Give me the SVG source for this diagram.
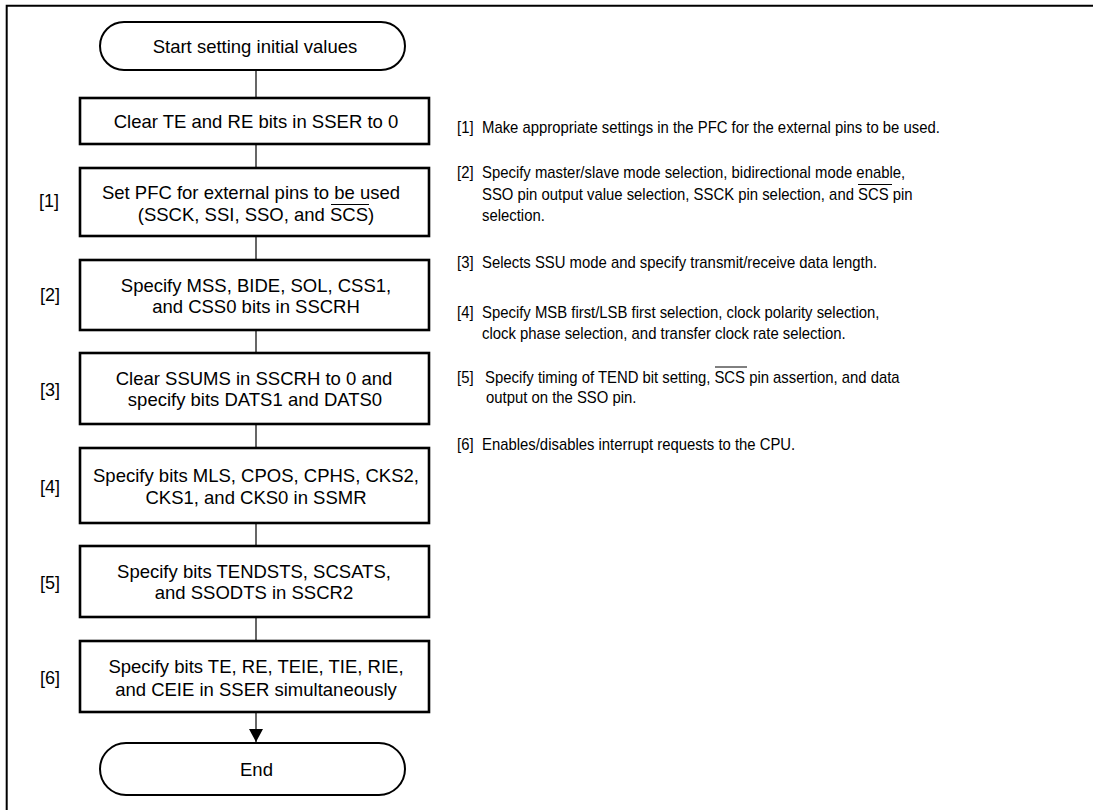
<svg xmlns="http://www.w3.org/2000/svg" width="1093" height="810" viewBox="0 0 1093 810">
<style>
text{font-family:"Liberation Sans",Arial,sans-serif;fill:#000}
.bt{font-size:18.5px;text-anchor:middle}
.lb{font-size:18px}
.rt{font-size:16px}
.box{fill:#fff;stroke:#000;stroke-width:2.6}
.term{fill:#fff;stroke:#000;stroke-width:2}
.con{stroke:#000;stroke-width:1.2;fill:none}
.ov{stroke:#000;stroke-width:1}
</style>
<defs>
<marker id="arr" markerWidth="14" markerHeight="18" refX="13" refY="7" orient="auto" markerUnits="userSpaceOnUse" viewBox="0 0 14 14">
<path d="M0,0 L13,7 L0,14 Z" fill="#000"/>
</marker>
</defs>
<rect width="1093" height="810" fill="#fff"/>
<path d="M6.7,810 V5.7 H1093" fill="none" stroke="#000" stroke-width="2"/>
<g id="connectors">
<line class="con" x1="256" y1="70" x2="256" y2="98"/>
<line class="con" x1="256" y1="144" x2="256" y2="168"/>
<line class="con" x1="256" y1="236" x2="256" y2="260"/>
<line class="con" x1="256" y1="330" x2="256" y2="353"/>
<line class="con" x1="256" y1="424" x2="256" y2="448"/>
<line class="con" x1="256" y1="523" x2="256" y2="546"/>
<line class="con" x1="256" y1="617" x2="256" y2="641"/>
<line class="con" x1="256" y1="712" x2="256" y2="742" marker-end="url(#arr)"/>
</g>
<g id="start">
<rect class="term" x="100" y="22" width="305" height="48" rx="24" ry="24"/>
<text class="bt" x="255" y="52.5">Start setting initial values</text>
</g>
<g id="step0">
<rect class="box" x="80" y="98" width="349" height="46"/>
<text class="bt" x="256" y="127.5">Clear TE and RE bits in SSER to 0</text>
</g>
<g id="step1">
<rect class="box" x="80" y="168" width="349" height="68"/>
<text class="lb" x="39" y="207">[1]</text>
<text class="bt" x="251" y="199">Set PFC for external pins to be used</text>
<text class="bt" x="256" y="221">(SSCK, SSI, SSO, and SCS)</text>
<line class="ov" x1="331" y1="204.5" x2="369" y2="204.5"/>
</g>
<g id="step2">
<rect class="box" x="80" y="260" width="349" height="70"/>
<text class="lb" x="40" y="301">[2]</text>
<text class="bt" x="256" y="292">Specify MSS, BIDE, SOL, CSS1,</text>
<text class="bt" x="256" y="313">and CSS0 bits in SSCRH</text>
</g>
<g id="step3">
<rect class="box" x="80" y="353" width="349" height="71"/>
<text class="lb" x="40" y="396">[3]</text>
<text class="bt" x="254" y="384.5">Clear SSUMS in SSCRH to 0 and</text>
<text class="bt" x="255" y="405.5">specify bits DATS1 and DATS0</text>
</g>
<g id="step4">
<rect class="box" x="80" y="448" width="349" height="75"/>
<text class="lb" x="40" y="493">[4]</text>
<text class="bt" x="256" y="482">Specify bits MLS, CPOS, CPHS, CKS2,</text>
<text class="bt" x="256" y="503.5">CKS1, and CKS0 in SSMR</text>
</g>
<g id="step5">
<rect class="box" x="80" y="546" width="349" height="71"/>
<text class="lb" x="40" y="589">[5]</text>
<text class="bt" x="254" y="577.5">Specify bits TENDSTS, SCSATS,</text>
<text class="bt" x="254" y="598.5">and SSODTS in SSCR2</text>
</g>
<g id="step6">
<rect class="box" x="80" y="641" width="349" height="71"/>
<text class="lb" x="40" y="684">[6]</text>
<text class="bt" x="256" y="673">Specify bits TE, RE, TEIE, TIE, RIE,</text>
<text class="bt" x="256" y="696">and CEIE in SSER simultaneously</text>
</g>
<g id="end">
<rect class="term" x="100" y="743" width="305" height="52" rx="26" ry="26"/>
<text class="bt" x="256.5" y="776">End</text>
</g>
<g id="notes">
<g transform="translate(457,0) scale(0.93,1)">
<text class="rt" x="0" y="133">[1]</text>
<text class="rt" x="26.9" y="133">Make appropriate settings in the PFC for the external pins to be used.</text>
<text class="rt" x="0" y="178">[2]</text>
<text class="rt" x="26.9" y="178">Specify master/slave mode selection, bidirectional mode enable,</text>
<text class="rt" x="26.9" y="200">SSO pin output value selection, SSCK pin selection, and SCS pin</text>
<text class="rt" x="26.9" y="221.5">selection.</text>
<text class="rt" x="0" y="268">[3]</text>
<text class="rt" x="26.9" y="268">Selects SSU mode and specify transmit/receive data length.</text>
<text class="rt" x="0" y="318.5">[4]</text>
<text class="rt" x="26.9" y="318.5">Specify MSB first/LSB first selection, clock polarity selection,</text>
<text class="rt" x="26.9" y="339">clock phase selection, and transfer clock rate selection.</text>
<text class="rt" x="0" y="383">[5]</text>
<text class="rt" x="30.1" y="383">Specify timing of TEND bit setting, SCS pin assertion, and data</text>
<text class="rt" x="31.2" y="403">output on the SSO pin.</text>
<text class="rt" x="0" y="450">[6]</text>
<text class="rt" x="26.9" y="450">Enables/disables interrupt requests to the CPU.</text>
</g>
<line class="ov" x1="858" y1="184.5" x2="892" y2="184.5"/>
<line class="ov" x1="715" y1="367" x2="747" y2="367"/>
</g>
</svg>
